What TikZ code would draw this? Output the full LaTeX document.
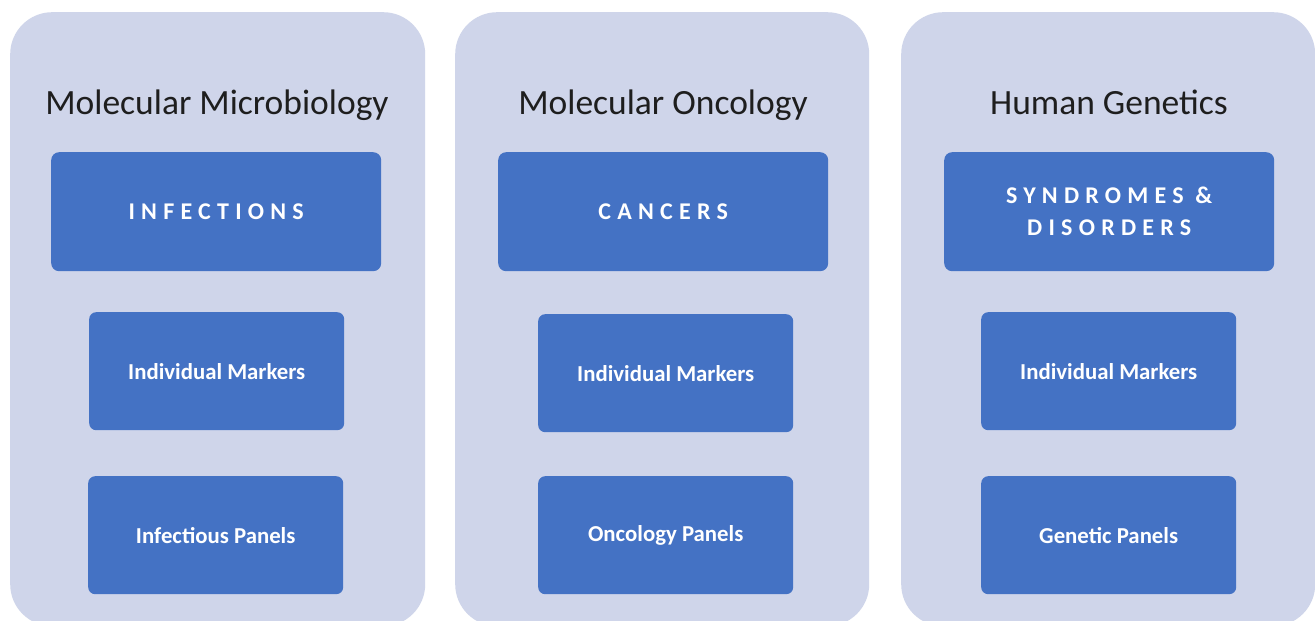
\documentclass[tikz,border=0pt]{standalone}
\usepackage{fontspec}
\setmainfont{Carlito}
\newfontfamily\boxfont{Carlito}[LetterSpace=26]
\definecolor{panelfill}{HTML}{CFD5EA}
\definecolor{boxfill}{HTML}{4472C4}
\definecolor{titlecol}{HTML}{1E1E1E}
\begin{document}
\begin{tikzpicture}[x=1pt,y=-1pt,
  panel/.style={fill=panelfill, rounded corners=42pt, inner sep=0pt, anchor=north west},
  ptitle/.style={font=\fontsize{35.5}{40}\selectfont, text=titlecol, inner sep=0pt, anchor=base},
  topbox/.style={fill=boxfill, rounded corners=8pt, inner sep=0pt, anchor=north west,
     minimum width=330pt, minimum height=119pt, text=white, align=center,
     font=\boxfont\bfseries\fontsize{24}{32}\selectfont},
  subbox/.style={fill=boxfill, rounded corners=7pt, inner sep=0pt, anchor=north west,
     minimum width=255pt, minimum height=118pt, text=white, align=center,
     font=\bfseries\fontsize{22.8}{24}\selectfont}]
\clip (0,0) rectangle (1315,621);
\fill[white] (0,0) rectangle (1315,621);
% panels
\node[panel, minimum width=415pt, minimum height=614pt] (p1) at (10,12) {};
\node[panel, minimum width=414pt, minimum height=614pt] (p2) at (455,12) {};
\node[panel, minimum width=414pt, minimum height=614pt] (p3) at (901,12) {};
% titles
\node[ptitle] (t1) at (217,114) {Molecular Microbiology};
\node[ptitle] (t2) at (663,114) {Molecular Oncology};
\node[ptitle] (t3) at (1109,114) {Human Genetics};
% top boxes
\node[topbox] (b1) at (51,152) {INFECTIONS};
\node[topbox] (b2) at (498,152) {CANCERS};
\node[topbox] (b3) at (944,152) {SYNDROMES \&\\DISORDERS};
% middle boxes
\node[subbox] (m1) at (89,312) {Individual Markers};
\node[subbox] (m2) at (538,314) {Individual Markers};
\node[subbox] (m3) at (981,312) {Individual Markers};
% bottom boxes
\node[subbox] (n1) at (88,476) {Infectious Panels};
\node[subbox] (n2) at (538,476) {Oncology Panels};
\node[subbox] (n3) at (981,476) {Genetic Panels};
\end{tikzpicture}
\end{document}
